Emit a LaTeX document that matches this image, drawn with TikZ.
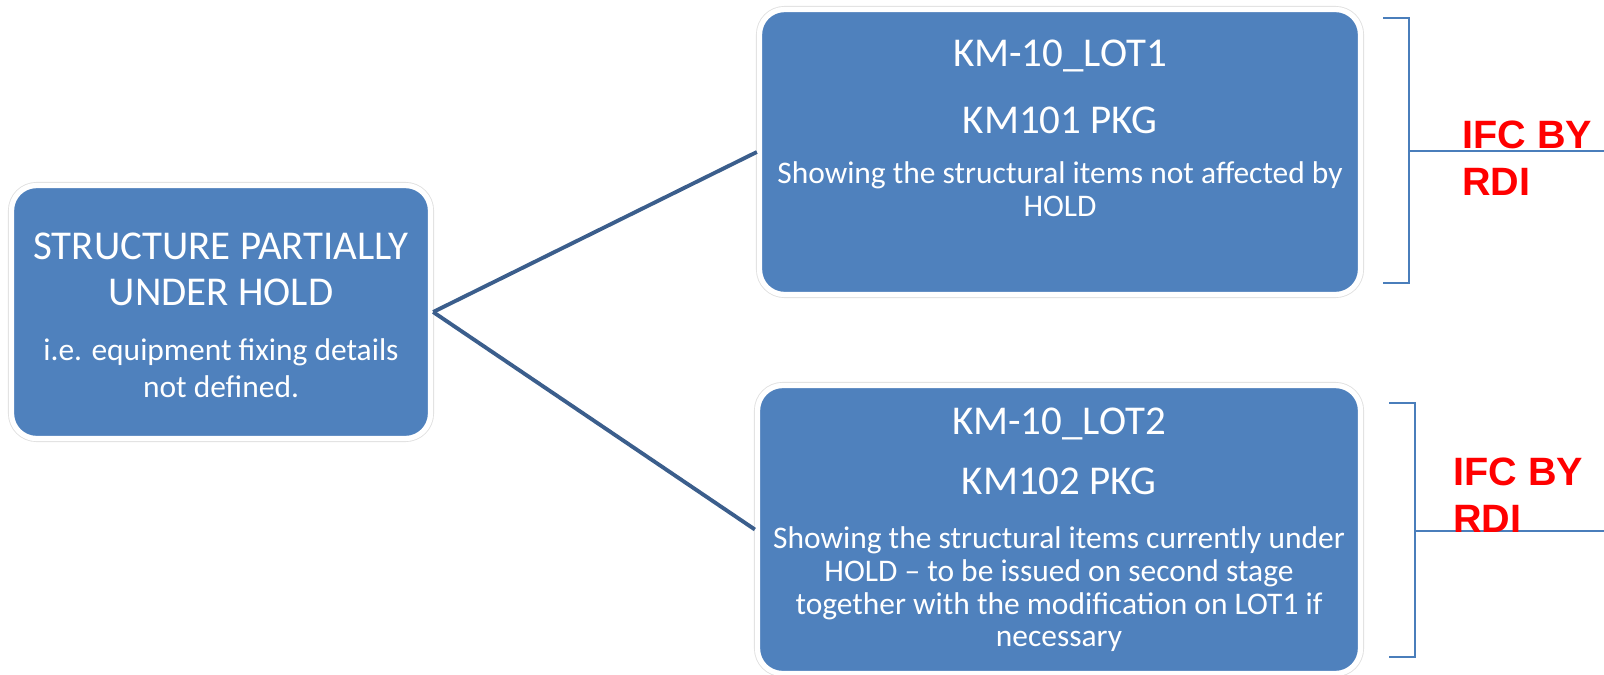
\documentclass[tikz,border=0pt]{standalone}
\usepackage{fontspec}
\setmainfont{Carlito}
\newfontfamily\ifcfont{Liberation Sans}
\definecolor{HoldBlue}{HTML}{4F81BD}
\definecolor{HoldLink}{HTML}{3B5E8C}
\definecolor{HoldBracket}{HTML}{4A7EBB}
\definecolor{HoldRed}{HTML}{FF0000}
\usetikzlibrary{positioning}
\tikzset{
    % Boxes with white rim
    pkg box/.style={
        rectangle,
        rounded corners=0.5cm,
        fill=HoldBlue,
        draw=white,
        line width=3pt,
        preaction={draw=black!12, line width=4pt}
    },
    big text/.style={
        text=white,
        font=\fontsize{23.3pt}{25pt}\selectfont,
        align=center,
        inner sep=0pt,
        anchor=base
    },
    small text/.style={
        text=white,
        font=\fontsize{17.9pt}{18.5pt}\selectfont,
        align=center,
        inner sep=0pt,
        anchor=base
    },
    link/.style={
        draw=HoldLink,
        line width=2.2pt
    },
    bracket/.style={
        draw=HoldBracket,
        line width=1.1pt
    },
    ifc label/.style={
        text=HoldRed,
        font=\ifcfont\bfseries\fontsize{22.5pt}{26.7pt}\selectfont,
        align=left,
        inner sep=0pt,
        anchor=base west
    }
}

\begin{document}
\begin{tikzpicture}
        \useasboundingbox (0,0) rectangle (32.08,-13.48);

        % Structure under hold
        \node[pkg box, minimum width=8.38cm, minimum height=5.06cm] (hold) at (4.42,-6.24) {};
        \node[big text] (hold title) at (4.42,-6.10) {STRUCTURE PARTIALLY\\[1pt]UNDER HOLD};
        \node[small text] (hold note) at (4.42,-7.94) {i.e. equipment fixing details\\[2pt]not defined.};

        % LOT1
        \node[pkg box, minimum width=12.02cm, minimum height=5.70cm] (lot1) at (21.2,-3.04) {};
        \node[big text] (lot1 title) at (21.2,-2.66) {KM-10\_LOT1\\[13pt]KM101 PKG};
        \node[small text] (lot1 note) at (21.2,-4.32) {Showing the structural items not affected by\\HOLD};

        % LOT2
        \node[pkg box, minimum width=12.06cm, minimum height=5.76cm] (lot2) at (21.18,-10.59) {};
        \node[big text] (lot2 title) at (21.18,-9.88) {KM-10\_LOT2\\[9pt]KM102 PKG};
        \node[small text] (lot2 note) at (21.18,-12.93) {Showing the structural items currently under\\
            HOLD -- to be issued on second stage\\
            together with the modification on LOT1 if\\
            necessary};

        % Links
        \draw[link] (hold.east) -- (lot1.west);
        \draw[link] (hold.east) -- (lot2.west);

        % Brackets
        \draw[bracket] (27.66,-0.36) -- (28.18,-0.36) -- (28.18,-5.66) -- (27.66,-5.66);
        \draw[bracket] (28.18,-3.02) -- (32.08,-3.02);
        \draw[bracket] (27.78,-8.06) -- (28.30,-8.06) -- (28.30,-13.14) -- (27.78,-13.14);
        \draw[bracket] (28.30,-10.62) -- (32.08,-10.62);

        \node[ifc label] (ifc1) at (29.24,-3.90) {IFC BY\\RDI};
        \node[ifc label] (ifc2) at (29.06,-10.64) {IFC BY\\RDI};
\end{tikzpicture}
\end{document}
